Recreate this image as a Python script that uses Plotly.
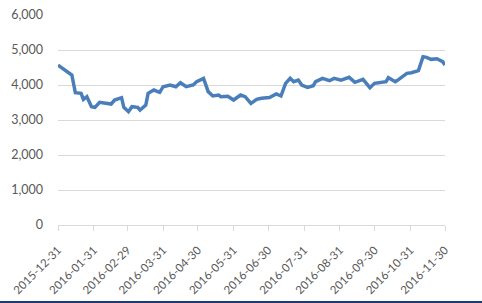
import plotly.graph_objects as go

dates = ["2015-12-31","2016-01-04","2016-01-08","2016-01-12","2016-01-14","2016-01-15",
         "2016-01-20","2016-01-22","2016-01-25","2016-01-29","2016-02-01","2016-02-05",
         "2016-02-15","2016-02-18","2016-02-24","2016-02-26","2016-03-01","2016-03-04",
         "2016-03-09","2016-03-11","2016-03-16","2016-03-18","2016-03-23","2016-03-28",
         "2016-03-31","2016-04-06","2016-04-11","2016-04-15","2016-04-20","2016-04-26",
         "2016-04-29","2016-05-05","2016-05-09","2016-05-13","2016-05-18","2016-05-20",
         "2016-05-26","2016-05-31","2016-06-06","2016-06-10","2016-06-15","2016-06-20",
         "2016-06-24","2016-07-01","2016-07-07","2016-07-11","2016-07-15","2016-07-19",
         "2016-07-22","2016-07-26","2016-07-29","2016-08-03","2016-08-08","2016-08-10",
         "2016-08-16","2016-08-22","2016-08-26","2016-09-01","2016-09-08","2016-09-13",
         "2016-09-20","2016-09-26","2016-09-30","2016-10-10","2016-10-12","2016-10-18",
         "2016-10-21","2016-10-28","2016-11-01","2016-11-07","2016-11-11","2016-11-14",
         "2016-11-18","2016-11-23","2016-11-28","2016-11-30"]
values = [4570,4476,4380,4286,3950,3780,
          3762,3590,3666,3380,3362,3505,
          3457,3571,3638,3362,3238,3380,
          3362,3286,3428,3762,3857,3790,
          3952,4000,3950,4066,3952,4000,
          4095,4190,3810,3686,3714,3666,
          3680,3571,3714,3666,3476,3590,
          3620,3640,3743,3686,4048,4190,
          4095,4140,4000,3933,3980,4095,
          4190,4123,4190,4140,4219,4076,
          4162,3923,4048,4095,4210,4095,
          4162,4333,4352,4410,4810,4790,
          4733,4752,4667,4571]

tick_dates = ["2015-12-31","2016-01-31","2016-02-29","2016-03-31","2016-04-30","2016-05-31",
              "2016-06-30","2016-07-31","2016-08-31","2016-09-30","2016-10-31","2016-11-30"]
y_ticks = [0, 1000, 2000, 3000, 4000, 5000, 6000]
y_labels = ["0", "1,000", "2,000", "3,000", "4,000", "5,000", "6,000"]

fig = go.Figure()
fig.add_trace(go.Scatter(x=dates, y=values, mode="lines",
                         line=dict(color="#4a7ebb", width=3.5)))

fig.update_layout(
    width=482, height=303,
    margin=dict(l=58, r=37, t=15, b=78, autoexpand=False),
    paper_bgcolor="white", plot_bgcolor="white",
    showlegend=False,
    font=dict(family="Lato, Open Sans, sans-serif", color="#595959", size=12),
)
fig.update_xaxes(
    type="date", range=["2015-12-31", "2016-11-30"], automargin=False,
    tickvals=tick_dates, ticktext=tick_dates, tickangle=-45,
    showgrid=False, showline=True, linecolor="#d9d9d9", linewidth=1,
    ticks="outside", ticklen=5, tickcolor="#d9d9d9",
    ticklabelstandoff=8,
    tickfont=dict(size=11.5),
)
fig.update_yaxes(
    range=[0, 6000], tickvals=y_ticks, ticktext=y_labels, automargin=False,
    showgrid=True, gridcolor="#d9d9d9", gridwidth=1,
    zeroline=False, showline=False, ticks="", ticklabelstandoff=14,
    tickfont=dict(size=12.5),
)
fig.add_shape(type="rect", xref="paper", yref="paper",
              x0=-58/387, x1=1 + 37/387, y0=-78/210, y1=-76/210,
              fillcolor="#1f3a73", line=dict(width=0))

fig.write_html("out.html")
